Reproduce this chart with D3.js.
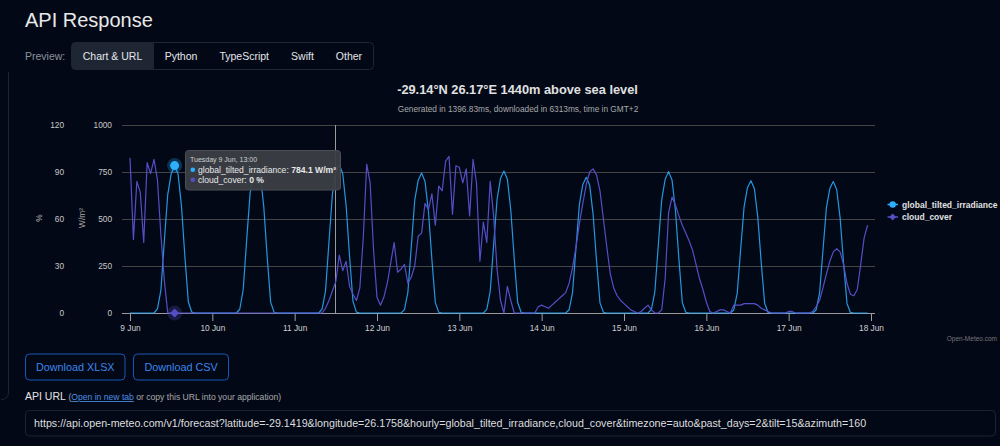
<!DOCTYPE html>
<html><head><meta charset="utf-8">
<script src="https://cdn.jsdelivr.net/npm/d3@7"></script>
<style>
html,body{margin:0;padding:0;background:#030817;overflow:hidden;}
svg{display:block;font-family:"Liberation Sans",Arial,Helvetica,sans-serif;}
</style></head><body>
<svg id="c" width="1000" height="446"></svg>
<script>
// ---------- data ----------
const startDay = "2026-06-09";           // first hourly timestamp 00:00 (GMT+2 local)
const dayLabels = ["9 Jun","10 Jun","11 Jun","12 Jun","13 Jun","14 Jun","15 Jun","16 Jun","17 Jun","18 Jun"];
const irradianceTicks = [0, 250, 500, 750, 1000];
const cloudTicks = [0, 30, 60, 90, 120];
const seriesNames = ["global_tilted_irradiance", "cloud_cover"];

const irradiance = [
  0,0,0,0,0,0,0,0,22,120,380,630,740,784.1,740,570,300,60,5,0,0,0,0,0,
  0,0,0,0,0,0,0,0,20,125,385,635,745,786,735,565,295,58,4,0,0,0,0,0,
  0,0,0,0,0,0,0,0,21,118,378,632,752,790,742,572,302,62,5,0,0,0,0,0,
  0,0,0,0,0,0,0,0,18,110,355,600,705,745,700,540,285,55,4,0,0,0,0,0,
  0,0,0,0,0,0,0,0,19,115,362,605,715,755,712,548,290,57,4,0,0,0,0,0,
  0,0,0,0,0,0,0,0,17,108,345,578,684,722,680,523,276,54,4,0,0,0,0,0,
  0,0,0,0,0,0,0,0,19,114,360,603,712,752,708,545,288,56,4,0,0,0,0,0,
  0,0,0,0,0,0,0,0,16,105,337,564,668,704,662,510,268,52,3,0,0,0,0,0,
  0,0,0,0,0,0,0,0,16,104,334,560,662,699,657,506,266,51,3,0,0,0,0,0
];
const cloudCover = [
  99,47,84,77,45,96,89,98,85,50,21,0,0,0,0,0,0,0,0,0,0,0,0,0,
  0,0,0,0,0,0,0,0,0,0,0,0,0,0,0,0,0,0,0,0,0,0,0,0,
  0,0,0,0,0,0,0,0,0,3,8,14,20,37,27,33,17,12,8,16,48,95,83,40,
  10,5,10,19,32,45,26,28,31,19,23,30,49,51,70,66,76,56,81,78,97,100,63,94,
  93,83,92,62,98,83,33,58,45,84,62,28,8,0,17,8,0,0,0,0,0,0,0,4,
  5,4,3,5,7,9,11,13,19,29,42,57,70,82,90,92,88,78,60,42,25,16,11,8,
  6,4,2,1,0,1,3,5,2,0,0,2,22,64,74,69,62,56,51,46,40,31,22,15,
  7,1,0,1,2,2,1,0,5,5,5,6,6,6,6,5,3,2,1,0,0,0,0,0,
  1,1,0,0,0,0,0,1,4,8,16,25,33,39,41,39,31,19,12,11,15,31,48,56
];
const hoverIndex = 13;         // Tuesday 9 Jun, 13:00
const crosshairIndex = 59.8;   // position of the vertical crosshair line

// ---------- setup ----------
const svg = d3.select("#c");
const t0 = d3.utcParse("%Y-%m-%d")(startDay);
const times = irradiance.map((_, i) => d3.utcHour.offset(t0, i));
const tickDates = dayLabels.map((_, i) => d3.utcDay.offset(t0, i));
const tEnd = tickDates[tickDates.length - 1];

const x = d3.scaleUtc().domain([t0, tEnd]).range([130, 871]);
const yW = d3.scaleLinear().domain([0, 1000]).range([313, 125]);
const yP = d3.scaleLinear().domain([0, 120]).range([313, 125]);

const C_IRR = "#2caffe", C_CLD = "#544fc5";
const GRID_L = 122, GRID_R = 875;

// ---------- page chrome ----------
svg.append("rect").attr("width",1000).attr("height",446).attr("fill","#030817");
svg.append("path").attr("d","M8.5,72 V392 Q8.5,399.5 1,399.5").attr("fill","none").attr("stroke","#1d2330");

svg.append("text").attr("x",25).attr("y",27).attr("font-size",20).attr("fill","#e8e8e8").text("API Response");
svg.append("text").attr("x",25).attr("y",59.5).attr("font-size",10.5).attr("fill","#8b939e").text("Preview:");
svg.append("rect").attr("x",71.5).attr("y",42.5).attr("width",302).attr("height",27).attr("rx",4)
  .attr("fill","none").attr("stroke","#1f2632");
svg.append("path").attr("d","M75.5,42.5 H154 V69.5 H75.5 Q71.5,69.5 71.5,65.5 V46.5 Q71.5,42.5 75.5,42.5 Z").attr("fill","#1e2633");
const tabs = [["Chart & URL",112.5],["Python",181],["TypeScript",244.2],["Swift",302.5],["Other",349]];
svg.append("g").selectAll("text").data(tabs).join("text")
  .attr("x",d=>d[1]).attr("y",59.5).attr("text-anchor","middle").attr("font-size",10.5)
  .attr("fill","#e4e6ea").text(d=>d[0]);

// titles
svg.append("text").attr("x",517.5).attr("y",94).attr("text-anchor","middle").attr("font-size",12.8)
  .attr("font-weight","bold").attr("fill","#e0e0e0").text("-29.14°N 26.17°E 1440m above sea level");
svg.append("text").attr("x",518).attr("y",111.5).attr("text-anchor","middle").attr("font-size",8.3)
  .attr("fill","#a8a8a8").text("Generated in 1396.83ms, downloaded in 6313ms, time in GMT+2");

// ---------- grid ----------
svg.append("g").selectAll("line").data(irradianceTicks.filter(v=>v>0)).join("line")
  .attr("x1",GRID_L).attr("x2",GRID_R).attr("y1",d=>yW(d)+0.5).attr("y2",d=>yW(d)+0.5)
  .attr("stroke","#444").attr("stroke-width",1);

// crosshair
svg.append("line").attr("x1",Math.round(x(d3.utcMinute.offset(t0, crosshairIndex*60)))+0.5)
  .attr("x2",Math.round(x(d3.utcMinute.offset(t0, crosshairIndex*60)))+0.5)
  .attr("y1",125).attr("y2",313).attr("stroke","#9a9a9a").attr("stroke-width",1);

// ---------- axes ----------
const axW = d3.axisLeft(yW).tickValues(irradianceTicks).tickSize(0).tickPadding(3).tickFormat(d3.format("d"));
const gW = svg.append("g").attr("transform","translate(115,0)").call(axW);
const axP = d3.axisLeft(yP).tickValues(cloudTicks).tickSize(0).tickPadding(3).tickFormat(d3.format("d"));
const gP = svg.append("g").attr("transform","translate(67,0)").call(axP);
[gW,gP].forEach(g=>{
  g.select(".domain").remove();
  g.selectAll("text").attr("font-size",8.3).attr("fill","#c8c8c8").attr("font-family",null);
});
svg.append("text").attr("transform","translate(42,218) rotate(-90)").attr("text-anchor","middle")
  .attr("font-size",8.3).attr("fill","#b0b0b0").text("%");
svg.append("text").attr("transform","translate(85,218) rotate(-90)").attr("text-anchor","middle")
  .attr("font-size",8.3).attr("fill","#b0b0b0").text("W/m²");

const axX = d3.axisBottom(x).tickValues(tickDates).tickSize(8).tickPadding(4)
  .tickFormat((d,i)=>dayLabels[i]);
const gX = svg.append("g").attr("transform","translate(0,313)").call(axX);
gX.select(".domain").remove();
gX.selectAll(".tick line").attr("stroke","#a0a0a0");
gX.selectAll("text").attr("font-size",8.3).attr("fill","#cfcfcf").attr("font-family",null);
svg.append("line").attr("x1",GRID_L).attr("x2",GRID_R).attr("y1",313.5).attr("y2",313.5)
  .attr("stroke","#9a9a9a").attr("stroke-width",1);

// ---------- series ----------
const lineIrr = d3.line().x((d,i)=>x(times[i])).y(d=>yW(d));
const lineCld = d3.line().x((d,i)=>x(times[i])).y(d=>yP(d));
svg.append("path").datum(irradiance).attr("d",lineIrr).attr("fill","none")
  .attr("stroke",C_IRR).attr("stroke-width",1.2).attr("stroke-opacity",0.85).attr("stroke-linejoin","round");
svg.append("path").datum(cloudCover).attr("d",lineCld).attr("fill","none")
  .attr("stroke",C_CLD).attr("stroke-width",1.2).attr("stroke-linejoin","round");

// hover markers
const hx = x(times[hoverIndex]);
const hyI = yW(irradiance[hoverIndex]), hyC = yP(cloudCover[hoverIndex]);
svg.append("circle").attr("cx",hx).attr("cy",hyI).attr("r",7.5).attr("fill",C_IRR).attr("fill-opacity",0.25);
svg.append("circle").attr("cx",hx).attr("cy",hyI).attr("r",4.5).attr("fill",C_IRR);
svg.append("circle").attr("cx",hx).attr("cy",hyC).attr("r",7.5).attr("fill",C_CLD).attr("fill-opacity",0.25);
svg.append("path").attr("transform",`translate(${hx},${hyC})`).attr("d","M0,-4.5 L4.5,0 L0,4.5 L-4.5,0 Z").attr("fill",C_CLD);

// ---------- tooltip ----------
const tt = svg.append("g");
tt.append("rect").attr("x",185.5).attr("y",150.5).attr("width",155).attr("height",39.5).attr("rx",3)
  .attr("fill","#3b3f45").attr("fill-opacity",0.95).attr("stroke","#4a4e55");
tt.append("text").attr("x",190).attr("y",161.5).attr("font-size",7).attr("fill","#d0d0d0")
  .text(d3.utcFormat("%A %-d %b, %H:%M")(times[hoverIndex]));
const ttRows = [
  {c:C_IRR, name:seriesNames[0], val:irradiance[hoverIndex]+" W/m²", y:172.5},
  {c:C_CLD, name:seriesNames[1], val:cloudCover[hoverIndex]+" %", y:182.5}
];
ttRows.forEach(r=>{
  tt.append("circle").attr("cx",192.8).attr("cy",r.y-2.8).attr("r",2.3).attr("fill",r.c);
  const t = tt.append("text").attr("x",198).attr("y",r.y).attr("font-size",8.6).attr("fill","#e8e8e8");
  t.append("tspan").text(r.name+": ");
  t.append("tspan").attr("font-weight","bold").text(r.val);
});

// ---------- legend ----------
const legend = [{name:seriesNames[0], c:C_IRR, y:204.5, sym:"circle"},{name:seriesNames[1], c:C_CLD, y:217, sym:"diamond"}];
legend.forEach(l=>{
  svg.append("line").attr("x1",887.5).attr("x2",898).attr("y1",l.y).attr("y2",l.y).attr("stroke",l.c).attr("stroke-width",1.5);
  if(l.sym==="circle") svg.append("circle").attr("cx",892.7).attr("cy",l.y).attr("r",3.2).attr("fill",l.c);
  else svg.append("path").attr("transform",`translate(892.7,${l.y})`).attr("d","M0,-3.4 L3.4,0 L0,3.4 L-3.4,0 Z").attr("fill",l.c);
  svg.append("text").attr("x",902).attr("y",l.y+3).attr("font-size",8.5).attr("font-weight","bold")
    .attr("fill","#e0e0e0").text(l.name);
});
svg.append("text").attr("x",997).attr("y",341).attr("text-anchor","end").attr("font-size",6.5)
  .attr("fill","#777").text("Open-Meteo.com");

// ---------- buttons & URL ----------
const buttons = [["Download XLSX",25.5,99.5],["Download CSV",133.5,95]];
buttons.forEach(b=>{
  svg.append("rect").attr("x",b[1]).attr("y",354).attr("width",b[2]).attr("height",26).attr("rx",4)
    .attr("fill","none").attr("stroke","#1656b5");
  svg.append("text").attr("x",b[1]+b[2]/2).attr("y",370.5).attr("text-anchor","middle").attr("font-size",10.8)
    .attr("fill","#3d86e8").text(b[0]);
});
const api = svg.append("text").attr("x",25).attr("y",400).attr("font-size",10.5).attr("fill","#e4e4e4");
api.append("tspan").text("API URL ");
const apiSub = api.append("tspan").attr("font-size",8.6).attr("fill","#a8a8a8");
apiSub.append("tspan").text("(");
apiSub.append("tspan").attr("fill","#4a8fe0").attr("text-decoration","underline").text("Open in new tab");
apiSub.append("tspan").text(" or copy this URL into your application)");
svg.append("rect").attr("x",25.5).attr("y",410.5).attr("width",970).attr("height",25.5).attr("rx",4)
  .attr("fill","none").attr("stroke","#1c2230");
svg.append("text").attr("x",34).attr("y",426.5).attr("font-size",10.7).attr("fill","#dedede")
  .text("https://api.open-meteo.com/v1/forecast?latitude=-29.1419&longitude=26.1758&hourly=global_tilted_irradiance,cloud_cover&timezone=auto&past_days=2&tilt=15&azimuth=160");
</script>
</body></html>
